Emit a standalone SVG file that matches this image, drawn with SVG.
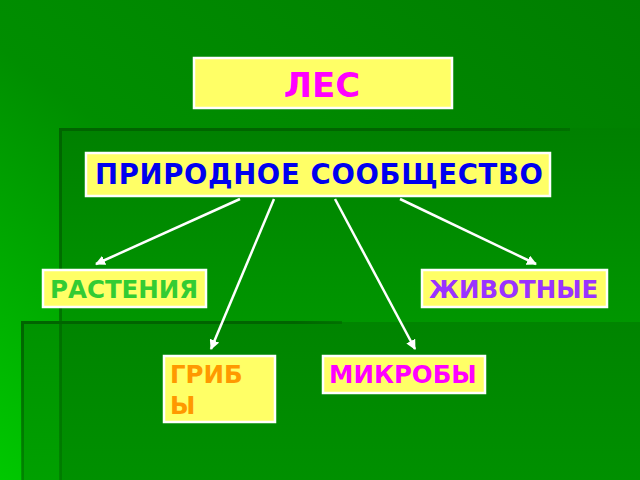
<svg xmlns="http://www.w3.org/2000/svg" width="640" height="480" viewBox="0 0 640 480">
  <defs>
    <linearGradient id="bg" x1="1" y1="0" x2="0" y2="1">
      <stop offset="0" stop-color="#007e00"/>
      <stop offset="0.55" stop-color="#008e00"/>
      <stop offset="1" stop-color="#00c800"/>
    </linearGradient>
    <linearGradient id="p1" x1="0" y1="0" x2="0" y2="1">
      <stop offset="0" stop-color="#008000"/>
      <stop offset="1" stop-color="#009600"/>
    </linearGradient>
    <linearGradient id="p2" x1="0" y1="0" x2="0" y2="1">
      <stop offset="0" stop-color="#008400"/>
      <stop offset="1" stop-color="#009000"/>
    </linearGradient>
    <linearGradient id="p2l" x1="0" y1="0" x2="0" y2="1">
      <stop offset="0" stop-color="#009200"/>
      <stop offset="1" stop-color="#00a000"/>
    </linearGradient>
    <linearGradient id="hl" x1="0" y1="0" x2="1" y2="0">
      <stop offset="0" stop-color="#006400"/>
      <stop offset="0.85" stop-color="#006400"/>
      <stop offset="1" stop-color="#006400" stop-opacity="0.6"/>
    </linearGradient>
    <linearGradient id="vl" x1="0" y1="0" x2="0" y2="1">
      <stop offset="0" stop-color="#006400"/>
      <stop offset="1" stop-color="#006a00" stop-opacity="0.5"/>
    </linearGradient>
    <marker id="arr" viewBox="0 0 10 10" refX="9" refY="5" markerWidth="4" markerHeight="4" orient="auto" markerUnits="strokeWidth">
      <path d="M0,0 L10,5 L0,10 Z" fill="#ffffff"/>
    </marker>
  </defs>
  <style>
    .box { fill: #ffff66; stroke: #ffffff; stroke-width: 2.5; }
    .t { font-family: "DejaVu Sans", Verdana, sans-serif; font-weight: bold; font-size: 24.5px; }
    .conn line { stroke: #ffffff; stroke-width: 2.5; marker-end: url(#arr); }
  </style>

  <!-- background -->
  <rect x="0" y="0" width="640" height="480" fill="url(#bg)"/>
  <rect x="60" y="128" width="580" height="194" fill="url(#p1)"/>
  <rect x="22" y="322" width="38" height="158" fill="url(#p2l)"/>
  <rect x="60" y="322" width="580" height="158" fill="url(#p2)"/>
  <rect x="60" y="128" width="510" height="3" fill="url(#hl)"/>
  <rect x="59" y="128" width="3" height="352" fill="url(#vl)"/>
  <rect x="22" y="321" width="320" height="3" fill="url(#hl)"/>
  <rect x="21" y="321" width="3" height="159" fill="url(#vl)"/>

  <g id="connectors" class="conn">
    <line x1="240" y1="199" x2="96" y2="264"/>
    <line x1="274" y1="199" x2="211" y2="349"/>
    <line x1="335" y1="199" x2="415" y2="349"/>
    <line x1="400" y1="199" x2="536" y2="264"/>
  </g>

  <g id="les">
    <rect class="box" x="194" y="58" width="258" height="50"/>
    <text class="t" x="322" y="97" text-anchor="middle" fill="#ff00ff" style="font-size:34px">ЛЕС</text>
  </g>
  <g id="soobshchestvo">
    <rect class="box" x="86" y="153" width="464" height="43"/>
    <text class="t" x="95" y="184" fill="#0000ee" style="font-size:27.5px" textLength="448" lengthAdjust="spacing">ПРИРОДНОЕ СООБЩЕСТВО</text>
  </g>
  <g id="rasteniya">
    <rect class="box" x="43" y="270" width="163" height="37"/>
    <text class="t" x="50" y="298" fill="#33cc33">РАСТЕНИЯ</text>
  </g>
  <g id="zhivotnye">
    <rect class="box" x="422" y="270" width="185" height="37"/>
    <text class="t" x="429" y="298" fill="#9933ff">ЖИВОТНЫЕ</text>
  </g>
  <g id="griby">
    <rect class="box" x="164" y="356" width="111" height="66"/>
    <text class="t" x="170" y="383" fill="#ff9900">ГРИБ</text>
    <text class="t" x="170" y="414" fill="#ff9900">Ы</text>
  </g>
  <g id="mikroby">
    <rect class="box" x="323" y="356" width="162" height="37"/>
    <text class="t" x="329" y="383" fill="#ff00ff">МИКРОБЫ</text>
  </g>
</svg>
